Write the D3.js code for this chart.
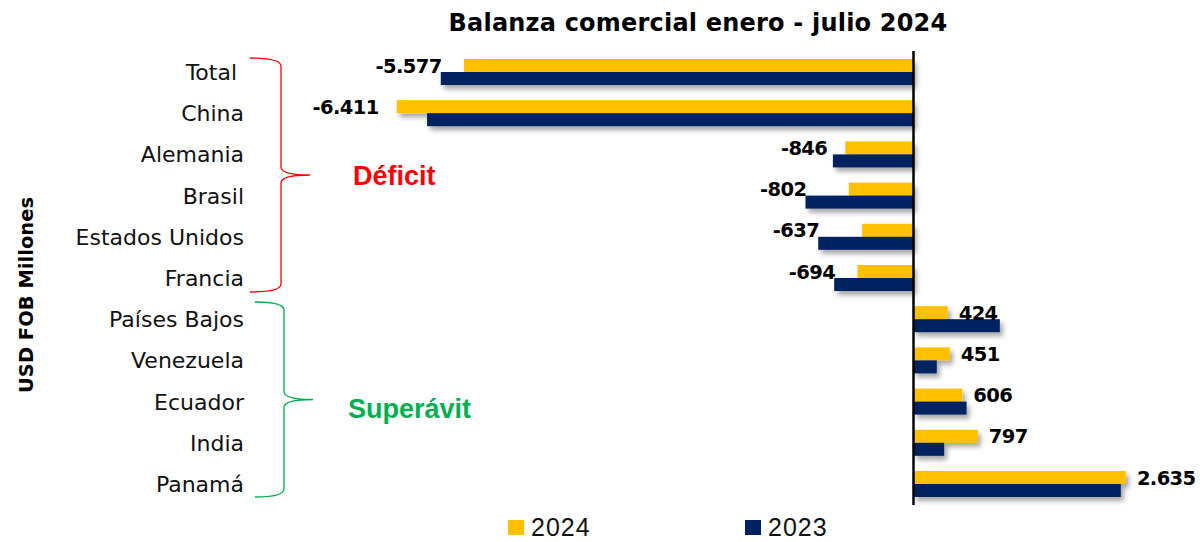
<!DOCTYPE html>
<html>
<head>
<meta charset="utf-8">
<script src="https://cdn.jsdelivr.net/npm/d3@7"></script>
<style>
body { margin: 0; background: #fff; }
text { white-space: pre; }
</style>
</head>
<body>
<div id="chart"></div>
<script>
var width = 1200;
var height = 542;

// data (USD FOB millones)
var categories = ["Total ", "China", "Alemania", "Brasil", "Estados Unidos", "Francia",
  "Países Bajos", "Venezuela", "Ecuador", "India", "Panamá"];
var values2024 = [-5577, -6411, -846, -802, -637, -694, 424, 451, 606, 797, 2635];
var values2023 = [-5865, -6035, -1000, -1340, -1182, -984, 1071, 289, 658, 380, 2572];
var seriesNames = ["2024", "2023"];
var seriesColors = ["#FFC000", "#002060"];

var gothic = "'DejaVu Sans', sans-serif";
var arial = "'Liberation Sans', Arial, sans-serif";

var svg = d3.select("#chart").append("svg")
  .attr("width", width)
  .attr("height", height);

// soft shadow under the bars
var defs = svg.append("defs");
defs.append("filter")
  .attr("id", "shadow")
  .attr("x", "-5%").attr("y", "-30%")
  .attr("width", "115%").attr("height", "200%")
  .append("feDropShadow")
  .attr("dx", 3).attr("dy", 4)
  .attr("stdDeviation", 2.5)
  .attr("flood-color", "#000")
  .attr("flood-opacity", 0.35);

var x = d3.scaleLinear()
  .domain([-7000, 3500])
  .range([349.3, 1195.6]);

var y = d3.scaleBand()
  .domain(categories)
  .range([51.4, 504.6])
  .padding(0);

var barH = 13;

var rows = categories.map(function(c, i) {
  return { cat: c, v24: values2024[i], v23: values2023[i] };
});

// title
svg.append("text")
  .attr("x", 698)
  .attr("y", 31)
  .attr("text-anchor", "middle")
  .attr("font-family", gothic)
  .attr("font-weight", "bold")
  .attr("font-size", 24)
  .attr("letter-spacing", 0.2)
  .text("Balanza comercial enero - julio 2024");

// bars
var g = svg.append("g").attr("filter", "url(#shadow)");
rows.forEach(function(d) {
  var c = y(d.cat) + y.bandwidth() / 2;
  g.append("rect")
    .attr("x", Math.min(x(0), x(d.v24)))
    .attr("y", c - barH)
    .attr("width", Math.abs(x(d.v24) - x(0)))
    .attr("height", barH)
    .attr("fill", seriesColors[0]);
  g.append("rect")
    .attr("x", Math.min(x(0), x(d.v23)))
    .attr("y", c)
    .attr("width", Math.abs(x(d.v23) - x(0)))
    .attr("height", barH)
    .attr("fill", seriesColors[1]);
});

// zero line
svg.append("line")
  .attr("x1", x(0)).attr("x2", x(0))
  .attr("y1", 51).attr("y2", 505)
  .attr("stroke", "#000")
  .attr("stroke-width", 2.5);

// value labels (2024)
var fmt = d3.formatLocale({ decimal: ",", thousands: ".", grouping: [3], currency: ["", ""] }).format(",d");
svg.selectAll("text.val")
  .data(rows)
  .enter().append("text")
  .attr("class", "val")
  .attr("x", function(d) {
    return d.v24 < 0 ? Math.min(x(d.v24) - 18, x(d.v23) + 1) : x(d.v24) + 11;
  })
  .attr("y", function(d) { return y(d.cat) + y.bandwidth() / 2 - barH / 2; })
  .attr("dy", "0.36em")
  .attr("text-anchor", function(d) { return d.v24 < 0 ? "end" : "start"; })
  .attr("font-family", gothic)
  .attr("font-weight", "bold")
  .attr("font-size", 19.5)
  .attr("letter-spacing", -0.6)
  .attr("fill", "#000")
  .text(function(d) { return fmt(d.v24).replace("−", "-"); });

// category labels
svg.selectAll("text.cat")
  .data(categories)
  .enter().append("text")
  .attr("class", "cat")
  .attr("x", 244)
  .attr("y", function(d) { return y(d) + y.bandwidth() / 2; })
  .attr("dy", "0.36em")
  .attr("text-anchor", "end")
  .attr("font-family", gothic)
  .attr("font-size", 22)
  .attr("fill", "#111")
  .text(function(d) { return d; });

// braces
function brace(x0, xv, xp, top, bottom) {
  var mid = (top + bottom) / 2;
  return "M" + x0 + "," + top +
    " Q" + xv + "," + top + " " + xv + "," + (top + 8) +
    " L" + xv + "," + (mid - 8) +
    " Q" + xv + "," + mid + " " + xp + "," + mid +
    " Q" + xv + "," + mid + " " + xv + "," + (mid + 8) +
    " L" + xv + "," + (bottom - 8) +
    " Q" + xv + "," + bottom + " " + x0 + "," + bottom;
}
svg.append("path")
  .attr("d", brace(250, 281, 310, y("Total ") + 6.6, y("Francia") + y.bandwidth() - 6.6))
  .attr("fill", "none")
  .attr("stroke", "#FF0000")
  .attr("stroke-width", 1.3);
svg.append("path")
  .attr("d", brace(255, 284, 313, y("Países Bajos") + 3.4, y("Panamá") + y.bandwidth() - 7.6))
  .attr("fill", "none")
  .attr("stroke", "#00B050")
  .attr("stroke-width", 1.3);

svg.append("text")
  .attr("x", 353).attr("y", 175)
  .attr("dy", "0.36em")
  .attr("font-family", arial)
  .attr("font-weight", "bold")
  .attr("font-size", 27)
  .attr("fill", "#FF0000")
  .text("Déficit");
svg.append("text")
  .attr("x", 348).attr("y", 408)
  .attr("dy", "0.36em")
  .attr("font-family", arial)
  .attr("font-weight", "bold")
  .attr("font-size", 27)
  .attr("fill", "#00B050")
  .text("Superávit");

// y axis title
svg.append("text")
  .attr("transform", "translate(33,295) rotate(-90)")
  .attr("text-anchor", "middle")
  .attr("font-family", gothic)
  .attr("font-weight", "bold")
  .attr("font-size", 19.5)
  .text("USD FOB Millones");

// legend
var legX = [508, 745];
seriesNames.forEach(function(s, i) {
  svg.append("rect")
    .attr("x", legX[i]).attr("y", 520)
    .attr("width", 16).attr("height", 15)
    .attr("fill", seriesColors[i]);
  svg.append("text")
    .attr("x", legX[i] + 23).attr("y", 536)
    .attr("font-family", arial)
    .attr("font-size", 25)
    .attr("letter-spacing", 1)
    .attr("fill", "#111")
    .text(s);
});
</script>
</body>
</html>
